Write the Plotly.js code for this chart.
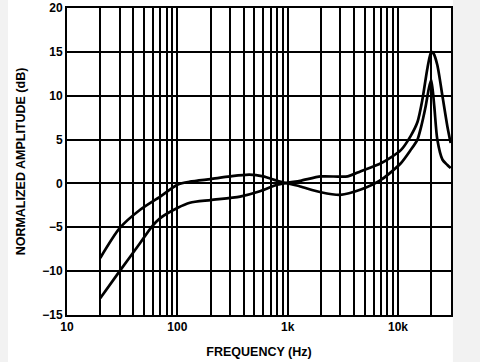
<!DOCTYPE html>
<html>
<head>
<meta charset="utf-8">
<script src="https://cdn.plot.ly/plotly-3.0.1.min.js"></script>
<style>
  html, body { margin: 0; padding: 0; background: #ffffff; }
  #chart { width: 480px; height: 362px; }
</style>
</head>
<body>
<div id="chart"></div>
<script>
// Curve 1 (upper at low frequency, 12 dB peak)
const freqA = [20, 30, 46, 70, 100, 130, 200, 300, 450, 600, 800, 1000, 1300, 2000, 3000, 4600, 7000, 10600, 13000, 15000, 16000, 17800, 19000, 20000, 21300, 22700, 25300, 28000, 30000];
const ampA  = [-8.5, -5.1, -3.0, -1.5, -0.15, 0.2, 0.5, 0.8, 1.0, 0.8, 0.3, 0.0, -0.35, -1.0, -1.3, -0.7, 0.4, 2.3, 3.8, 5.0, 6.2, 8.8, 10.8, 11.8, 8.8, 5.0, 2.7, 2.1, 1.75];

// Curve 2 (lower at low frequency, 15 dB peak)
const freqB = [20, 30, 46, 59, 70, 100, 130, 200, 370, 560, 800, 1000, 1300, 2000, 3500, 4600, 7000, 10600, 13000, 15000, 16600, 18500, 20000, 21000, 22700, 25300, 28000, 30000];
const ampB  = [-13.1, -10.0, -6.8, -4.9, -3.95, -2.8, -2.2, -1.9, -1.5, -0.9, -0.15, 0.1, 0.3, 0.8, 0.8, 1.4, 2.3, 3.8, 5.4, 7.0, 9.5, 13.2, 15.0, 14.8, 13.5, 9.9, 6.5, 4.6];

// Axis ticks / grid positions
const xGridVals = [10, 20, 30, 40, 50, 60, 70, 80, 90, 100, 200, 300, 400, 500, 600, 700, 800, 900, 1000, 2000, 3000, 4000, 5000, 6000, 7000, 8000, 9000, 10000, 20000];
const xGridText = ["10", "", "", "", "", "", "", "", "", "100", "", "", "", "", "", "", "", "", "1k", "", "", "", "", "", "", "", "", "10k", ""];
const yTickVals = [-15, -10, -5, 0, 5, 10, 15, 20];
const yTickText = ["\u221215", "\u221210", "\u22125", "0", "5", "10", "15", "20"];

const lineStyle = { color: "#000", width: 2.7, shape: "spline", smoothing: 0.7 };

const traces = [
  { x: freqA, y: ampA, type: "scatter", mode: "lines", line: lineStyle, hoverinfo: "skip" },
  { x: freqB, y: ampB, type: "scatter", mode: "lines", line: lineStyle, hoverinfo: "skip" }
];

const fontFam = "Liberation Sans, Arial, sans-serif";
const tickFont = { family: fontFam, size: 12, color: "#000", weight: "bold" };
const titleFont = { family: fontFam, size: 12.5, color: "#000", weight: "bold" };

const layout = {
  width: 480, height: 362,
  margin: { l: 67, r: 29, t: 8, b: 47, pad: 0 },
  paper_bgcolor: "#ffffff",
  plot_bgcolor: "#ffffff",
  showlegend: false,
  font: tickFont,
  xaxis: {
    type: "log",
    range: [1, 4.48],
    tickmode: "array",
    tickvals: xGridVals,
    ticktext: xGridText,
    ticks: "",
    showgrid: true, gridcolor: "#000", gridwidth: 2,
    showline: true, linecolor: "#000", linewidth: 2, mirror: true,
    zeroline: false,
    tickfont: tickFont,
    title: { text: "FREQUENCY (Hz)", font: titleFont, standoff: 14 }
  },
  yaxis: {
    range: [-15, 20],
    tickmode: "array",
    tickvals: yTickVals,
    ticktext: yTickText,
    ticks: "",
    showgrid: true, gridcolor: "#000", gridwidth: 2,
    showline: true, linecolor: "#000", linewidth: 2, mirror: true,
    zeroline: false,
    tickfont: tickFont,
    title: { text: "NORMALIZED AMPLITUDE (dB)", font: titleFont, standoff: 14 }
  },
  shapes: [
    { type: "rect", xref: "paper", yref: "paper", x0: -0.2, x1: -0.1536, y0: -0.2, y1: 1.1,
      fillcolor: "#f2f2f2", line: { width: 0 }, layer: "below" },
    { type: "rect", xref: "paper", yref: "paper", x0: 1.005, x1: 1.1, y0: -0.2, y1: 1.1,
      fillcolor: "#f2f2f2", line: { width: 0 }, layer: "below" }
  ]
};

Plotly.newPlot("chart", traces, layout, { staticPlot: true, displayModeBar: false });
</script>
</body>
</html>
